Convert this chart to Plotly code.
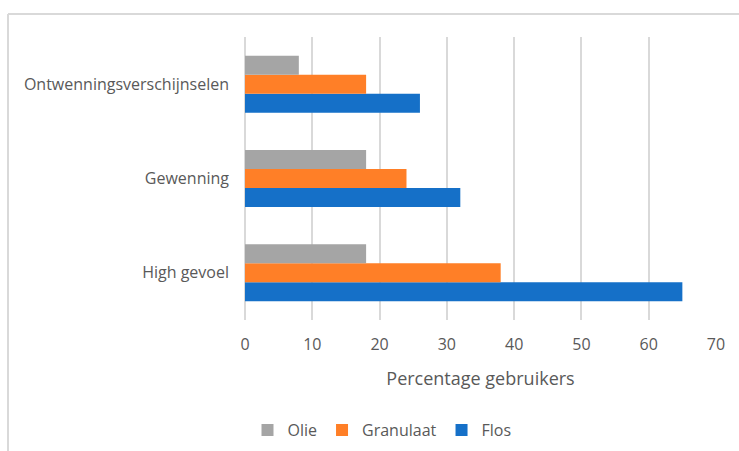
import plotly.graph_objects as go

categories = ["High gevoel", "Gewenning", "Ontwenningsverschijnselen"]
olie = [18, 18, 8]
granulaat = [38, 24, 18]
flos = [65, 32, 26]
x_ticks = [0, 10, 20, 30, 40, 50, 60, 70]

W, H = 739, 451
L, R, T, B = 245, 716, 37, 320  # plot area pixels

font_family = "'Open Sans', Lato, sans-serif"
txt = "#595959"
grid = "#d9d9d9"

fig = go.Figure()
fig.add_trace(go.Bar(y=categories, x=flos, name="Flos", orientation="h",
                     marker=dict(color="#1570C8", line=dict(width=0))))
fig.add_trace(go.Bar(y=categories, x=granulaat, name="Granulaat", orientation="h",
                     marker=dict(color="#FF7F27", line=dict(width=0))))
fig.add_trace(go.Bar(y=categories, x=olie, name="Olie", orientation="h",
                     marker=dict(color="#A5A5A5", line=dict(width=0))))

def px_x(p):
    return (p - L) / (R - L)

def px_y(p):
    return (B - p) / (B - T)

fig.update_layout(
    width=W, height=H,
    margin=dict(l=L, r=W - R, t=T, b=H - B, autoexpand=False),
    paper_bgcolor="white", plot_bgcolor="white",
    barmode="group", bargap=0.395, bargroupgap=0,
    font=dict(family=font_family, size=16, color=txt),
    showlegend=True,
    legend=dict(orientation="h", traceorder="reversed",
                x=px_x(382), xanchor="center", y=px_y(430), yanchor="middle",
                font=dict(size=16, color=txt), itemwidth=30, tracegroupgap=0),
    xaxis=dict(range=[0, 70], tickvals=x_ticks, showgrid=True, gridcolor=grid,
               gridwidth=1.5, zeroline=True, zerolinecolor=grid, zerolinewidth=1.5,
               showline=False, ticks="", ticklabelstandoff=13,
               tickfont=dict(size=16, color=txt),
               title=dict(text="Percentage gebruikers", standoff=18,
                          font=dict(size=18, color=txt))),
    yaxis=dict(range=[-0.5, 2.5], showgrid=False, zeroline=False, showline=False,
               ticks="", ticklabelstandoff=15,
               tickfont=dict(size=16, color=txt)),
    shapes=[
        dict(type="line", xref="paper", yref="paper",
             x0=px_x(8), x1=px_x(W + 5), y0=px_y(14), y1=px_y(14),
             line=dict(color=grid, width=2)),
        dict(type="line", xref="paper", yref="paper",
             x0=px_x(8), x1=px_x(8), y0=px_y(14), y1=px_y(H + 5),
             line=dict(color=grid, width=2)),
    ],
)

fig.write_html("out.html")
